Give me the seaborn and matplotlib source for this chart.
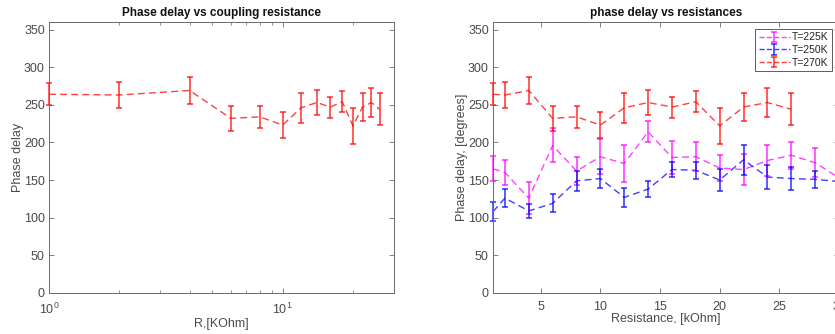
import numpy as np
import pandas as pd
import matplotlib
matplotlib.use("Agg")
import matplotlib.pyplot as plt
import seaborn as sns
from matplotlib.ticker import LogLocator, NullFormatter

# Resistance values (kOhm)
r_270 = [1, 2, 4, 6, 8, 10, 12, 14, 16, 18, 20, 22, 24, 26]
r_full = [1, 2, 4, 6, 8, 10, 12, 14, 16, 18, 20, 22, 24, 26, 28, 30]

# Phase delay (degrees) and error half-widths per temperature
phase_225 = [165, 160, 126, 196, 162, 181, 172, 214, 180, 181, 166, 164, 176, 183, 173, 153]
err_225 = [16.5, 16.5, 21, 22.5, 18, 23, 24, 14, 21.5, 19, 17.5, 20, 20, 18, 19.5, 19]
phase_250 = [108, 126, 109, 119, 149, 152, 127, 138, 164, 163, 150, 177, 154, 152, 151, 148]
err_250 = [12.5, 12, 9, 12, 13, 13, 12.5, 11, 10.5, 11.5, 14.5, 20, 16, 15, 11.5, 12]
phase_270 = [264, 263, 269, 232, 234, 223, 246, 253, 247, 254, 222, 247, 253, 244]
err_270 = [14.5, 17, 17.5, 16.5, 15, 17, 20, 16.5, 14, 14, 24, 19, 19, 21]

labels = ["T=225K", "T=250K", "T=270K"]
colors = ["#ff00ff", "#0000ff", "#ff0000"]

spine_col = "#6a6a6a"
text_col = "#4a4a4a"

sns.set_theme(style="white")
plt.rcParams["font.family"] = ["Liberation Sans", "DejaVu Sans"]
plt.rcParams["axes.edgecolor"] = spine_col
plt.rcParams["axes.linewidth"] = 0.7

fig = plt.figure(figsize=(8.35, 3.34), dpi=100)
ax1 = fig.add_axes([0.0587, 0.1228, 0.4132, 0.8114])
ax2 = fig.add_axes([0.5904, 0.1228, 0.4144, 0.8114])

tick_kw = dict(direction="in", colors=spine_col, labelcolor=text_col, labelsize=9,
               bottom=True, left=True, top=True, right=True, length=3.5, width=0.6)
bar_kw = dict(fmt="none", alpha=0.75, elinewidth=1.2, capsize=2.5, capthick=1.2,
              clip_on=False)


def style_axes(ax):
    ax.tick_params(axis="both", which="major", **tick_kw)
    ax.tick_params(axis="x", which="major", pad=6)
    ax.tick_params(axis="y", which="major", pad=3)


# Left panel: 270 K series on a log axis
df_left = pd.DataFrame({"R": r_270, "phase": phase_270})
sns.lineplot(data=df_left, x="R", y="phase", ax=ax1, color=colors[2], alpha=0.75,
             linestyle=(0, (5, 3)), linewidth=1.0)
ax1.errorbar(r_270, phase_270, yerr=err_270, ecolor=colors[2], **bar_kw)
ax1.set_xscale("log")
ax1.set_xlim(1, 30)
ax1.set_ylim(0, 360)
ax1.set_yticks(np.arange(0, 351, 50))
ax1.xaxis.set_major_locator(LogLocator(base=10, numticks=5))
ax1.xaxis.set_minor_locator(LogLocator(base=10, subs=np.arange(2, 10), numticks=10))
ax1.xaxis.set_minor_formatter(NullFormatter())
style_axes(ax1)
ax1.tick_params(axis="x", which="minor", direction="in", bottom=True, top=True,
                length=2, width=0.5, colors=spine_col)
ax1.set_title("Phase delay vs coupling resistance", fontsize=8.5, fontweight="bold",
              color="#111111", pad=4)
ax1.set_xlabel("R,[KOhm]", fontsize=9, color=text_col, labelpad=1)
ax1.set_ylabel("Phase delay", fontsize=9, color=text_col, labelpad=0)

# Right panel: all three temperatures on a linear axis
series = [(r_full, phase_225, err_225), (r_full, phase_250, err_250), (r_270, phase_270, err_270)]
rows = []
for lab, (xs, ys, _) in zip(labels, series):
    rows += [{"R": x, "phase": y, "T": lab} for x, y in zip(xs, ys)]
df_right = pd.DataFrame(rows)
sns.lineplot(data=df_right, x="R", y="phase", hue="T", palette=dict(zip(labels, colors)),
             ax=ax2, alpha=0.75, linestyle=(0, (5, 3)), linewidth=1.0, legend=False)
handles = []
for lab, col, (xs, ys, es) in zip(labels, colors, series):
    ax2.errorbar(xs, ys, yerr=es, ecolor=col, **bar_kw)
    h = ax2.errorbar([np.nan], [np.nan], yerr=[1], fmt="--", color=col, alpha=0.75,
                     linewidth=1.0, elinewidth=1.2, capsize=2.5, capthick=1.2, label=lab)
    handles.append(h)
ax2.set_xlim(1, 30)
ax2.set_ylim(0, 360)
ax2.set_yticks(np.arange(0, 351, 50))
ax2.set_xticks([5, 10, 15, 20, 25, 30])
style_axes(ax2)
ax2.set_title("phase delay vs resistances", fontsize=8.5, fontweight="bold",
              color="#111111", pad=4)
ax2.set_xlabel("Resistance, [kOhm]", fontsize=9, color=text_col, labelpad=0)
ax2.set_ylabel("Phase delay, [degrees]", fontsize=9, color=text_col, labelpad=0)
leg = ax2.legend(handles=handles, labels=labels, loc="upper left",
                 bbox_to_anchor=(0.757, 0.975), fontsize=7.5, frameon=True, fancybox=False,
                 borderpad=0.35, labelspacing=0.25, handlelength=3.0, handletextpad=0.2,
                 borderaxespad=0)
for t in leg.get_texts():
    t.set_color("#222222")
leg.get_frame().set_edgecolor("#333333")
leg.get_frame().set_linewidth(0.7)

fig.savefig("out.png", dpi=100)
